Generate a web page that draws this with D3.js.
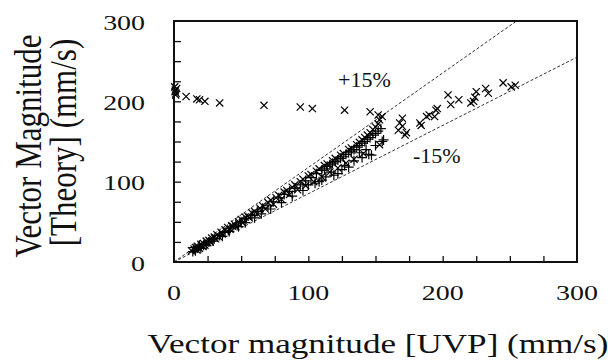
<!DOCTYPE html>
<html>
<head>
<meta charset="utf-8">
<script src="https://cdn.jsdelivr.net/npm/d3@7"></script>
<style>
  body { margin: 0; background: #fff; }
  text { font-family: "Liberation Serif", "Times New Roman", serif; fill: #111; }
</style>
</head>
<body>
<svg id="chart"></svg>
<script>
// axis ranges and tick labels
var xTicks = [0, 100, 200, 300];
var yTicks = [0, 100, 200, 300];
var minorStep = 25;

// × markers: [UVP, Theory]
var crossPts = [
  [0.5,218],[1,214],[1.5,210],[0.8,212],[2,216],[1.2,208],[9,206],[17,203],[19,202],
  [23,200],[34,198],[67,195],[94,193],[103,191],[127,189],[146,187],
  [13,14],[15,16],[16,18],[17,15],[18,19],[19,17],[20,22],[21,20],[22,23],[23,21],
  [24,26],[25,24],[26,27],[27,25],[28,30],[30,31],[31,29],[32,34],[33,32],[35,37],
  [36,35],[38,40],[39,38],[40,43],[42,41],[43,45],[45,47],[46,44],[48,50],[50,53],
  [51,49],[53,56],[55,57],[56,55],[58,61],[60,63],[62,60],[64,67],[66,70],[68,66],
  [70,74],[72,77],[74,72],[76,80],[78,83],[80,78],[82,87],[84,89],[86,84],[88,93],
  [90,96],[92,90],[94,100],[96,103],[98,95],[100,107],[102,109],[104,100],[106,113],
  [108,116],[110,106],[112,120],[114,122],[116,112],[118,126],[120,129],[122,117],
  [124,133],[126,135],[128,123],[130,140],[132,142],[134,128],[136,146],[138,149],
  [140,152],[142,155],[144,158],[146,161],[148,165],[150,168],[152,172],[153,177],
  [155,181],[152,183],
  [141,135],[153,146],
  [167,164],[168,173],[170,169],[172,158],[173,161],[170,179],[183,173],[184,170],
  [188,181],[190,183],[194,181],[195,189],[196,191],[204,208],[206,196],[212,202],
  [221,198],[223,200],[224,205],[225,212],[232,216],[234,210],[245,223],[251,218],[254,220]
];

// + markers: [UVP, Theory]
var plusPts = [
  [14,13],[15,18],[16,14],[18,18],[19,21],[20,17],[22,21],[24,21],[26,25],[29,26],
  [30,29],[34,33],[36,32],[38,37],[41,38],[42,42],[46,46],[48,44],[50,50],[53,49],
  [54,54],[58,58],[60,55],[62,63],[65,60],[66,67],[70,70],[72,66],[74,75],[78,80],
  [80,74],[82,84],[86,88],[88,82],[90,92],[94,96],[96,89],[98,101],[102,105],[106,110],
  [108,100],[110,114],[112,116],[114,119],[116,121],[118,123],[120,125],[122,127],
  [124,129],[126,131],[128,134],[130,136],[132,138],[134,140],[136,143],[138,145],
  [140,148],[142,150],[144,153],[146,155],[148,158],[150,160],[152,163],[154,166],
  [100,96],[105,98],[110,102],[113,106],[117,112],[122,110],[127,120],[130,118],
  [134,126],[138,136],[140,130],[145,134],[147,133],[150,145],[155,150],[156,152],
  [119,108],[125,115],[143,140]
];

var bandFactors = [1 / 0.85, 0.85];

var width = 608, height = 361;
var margin = {left: 174, right: 31, top: 21, bottom: 99};
var stretch = 1.3;

var svg = d3.select('#chart')
  .attr('width', width)
  .attr('height', height);

var x = d3.scaleLinear().domain([0, 300]).range([margin.left, width - margin.right]);
var y = d3.scaleLinear().domain([0, 300]).range([height - margin.bottom, margin.top]);

var plot = svg.append('g');

svg.append('clipPath').attr('id', 'clip')
  .append('rect')
  .attr('x', x(0)).attr('y', y(300))
  .attr('width', x(300) - x(0)).attr('height', y(0) - y(300));

// ±15% guide lines
plot.append('g').attr('clip-path', 'url(#clip)')
  .selectAll('line')
  .data(bandFactors).enter()
  .append('line')
  .attr('x1', x(0)).attr('y1', y(0))
  .attr('x2', x(300)).attr('y2', function(k){ return y(300 * k); })
  .attr('stroke', '#333')
  .attr('stroke-width', 1)
  .attr('stroke-dasharray', '3,2');

// × markers
var s = 3.6;
plot.append('g').selectAll('path.cross')
  .data(crossPts).enter()
  .append('path')
  .attr('class', 'cross')
  .attr('d', function(d){
    var cx = x(d[0]), cy = y(d[1]);
    return 'M' + (cx - s) + ',' + (cy - s) + 'L' + (cx + s) + ',' + (cy + s) +
           'M' + (cx - s) + ',' + (cy + s) + 'L' + (cx + s) + ',' + (cy - s);
  })
  .attr('stroke', '#000')
  .attr('stroke-width', 1.2)
  .attr('fill', 'none');

// + markers
var p = 5;
plot.append('g').selectAll('path.plus')
  .data(plusPts).enter()
  .append('path')
  .attr('class', 'plus')
  .attr('d', function(d){
    var cx = x(d[0]), cy = y(d[1]);
    return 'M' + (cx - p) + ',' + cy + 'L' + (cx + p) + ',' + cy +
           'M' + cx + ',' + (cy - p) + 'L' + cx + ',' + (cy + p);
  })
  .attr('stroke', '#000')
  .attr('stroke-width', 1.2)
  .attr('fill', 'none');

// frame
svg.append('rect')
  .attr('x', x(0)).attr('y', y(300))
  .attr('width', x(300) - x(0)).attr('height', y(0) - y(300))
  .attr('fill', 'none')
  .attr('stroke', '#111')
  .attr('stroke-width', 2);

// inward minor ticks
var tickVals = d3.range(minorStep, 300, minorStep);
var xAxis = d3.axisBottom(x).tickValues(tickVals).tickSize(-6).tickFormat('');
var yAxis = d3.axisLeft(y).tickValues(tickVals).tickSize(-7).tickFormat('');
svg.append('g').attr('transform', 'translate(0,' + y(0) + ')').call(xAxis)
  .call(function(g){ g.select('.domain').remove(); g.selectAll('line').attr('stroke', '#111').attr('stroke-width', 1.3); });
svg.append('g').attr('transform', 'translate(' + x(0) + ',0)').call(yAxis)
  .call(function(g){ g.select('.domain').remove(); g.selectAll('line').attr('stroke', '#111').attr('stroke-width', 1.3); });

// tick labels (horizontally stretched like the source)
svg.append('g').selectAll('text')
  .data(xTicks).enter()
  .append('text')
  .attr('transform', function(d){ return 'translate(' + x(d) + ',300) scale(1.27,1)'; })
  .attr('text-anchor', 'middle')
  .attr('font-size', '22px')
  .text(function(d){ return d; });

svg.append('g').selectAll('text')
  .data(yTicks).enter()
  .append('text')
  .attr('transform', function(d){ return 'translate(145,' + (y(d) + 8.5) + ') scale(1.27,1)'; })
  .attr('text-anchor', 'end')
  .attr('font-size', '22px')
  .text(function(d){ return d; });

// band labels
plot.append('text').attr('x', 338).attr('y', 87).attr('font-size', '22px').text('+15%');
plot.append('text').attr('x', 413).attr('y', 163).attr('font-size', '22px').text('-15%');

// axis titles
svg.append('text')
  .attr('transform', 'translate(378,353) scale(' + stretch + ',1)')
  .attr('text-anchor', 'middle')
  .attr('font-size', '27px')
  .text('Vector magnitude [UVP] (mm/s)');

svg.append('text')
  .attr('transform', 'translate(41,146) scale(1.2,1) rotate(-90)')
  .attr('text-anchor', 'middle')
  .attr('font-size', '31px')
  .text('Vector Magnitude');

svg.append('text')
  .attr('transform', 'translate(76,142.5) scale(1.2,1) rotate(-90)')
  .attr('text-anchor', 'middle')
  .attr('font-size', '31px')
  .text('[Theory] (mm/s)');
</script>
</body>
</html>
